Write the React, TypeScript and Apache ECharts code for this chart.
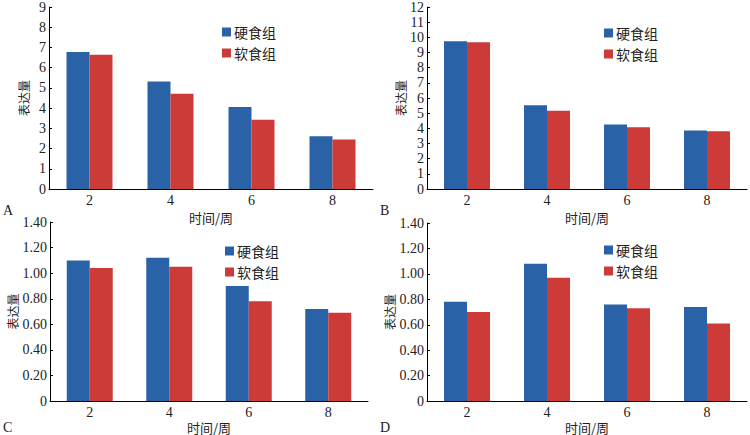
import React, { useEffect, useRef } from 'react';
import * as echarts from 'echarts';

const weeks = ['2', '4', '6', '8'];
const groupNames = ['硬食组', '软食组'];

// 硬食组 / 软食组 per panel
const hardA = [6.77, 5.32, 4.05, 2.61];
const softA = [6.64, 4.71, 3.42, 2.45];
const hardB = [9.75, 5.53, 4.26, 3.85];
const softB = [9.68, 5.16, 4.07, 3.8];
const hardC = [1.1, 1.12, 0.9, 0.72];
const softC = [1.04, 1.05, 0.78, 0.69];
const hardD = [0.78, 1.08, 0.76, 0.74];
const softD = [0.7, 0.97, 0.73, 0.61];

const panelLetters = ['A', 'B', 'C', 'D'];
const yMax = [9, 12, 1.4, 1.4];
const yStep = [1, 1, 0.2, 0.2];

const BLUE = '#2a62a8';
const RED = '#cd3b38';
const SERIF = '"Liberation Serif", "DejaVu Serif", serif';
const SANS = '"Noto Sans CJK SC", "Noto Sans", sans-serif';

const grids = [
  { left: 49, top: 5, width: 324, height: 184 },
  { left: 427, top: 6, width: 320, height: 183 },
  { left: 50, top: 222, width: 318, height: 184 },
  { left: 427, top: 223, width: 320, height: 183 },
];

export default function App() {
  const chartRef = useRef<HTMLDivElement>(null);

  useEffect(() => {
    if (!chartRef.current) return;
    const chart = echarts.init(chartRef.current, null, { renderer: 'svg' });

    const hard = [hardA, hardB, hardC, hardD];
    const soft = [softA, softB, softC, softD];

    const xAxis = grids.map((_, i) => ({
      type: 'category',
      gridIndex: i,
      data: weeks,
      name: '时间/周',
      nameLocation: 'middle',
      nameGap: i < 2 ? 21 : 17,
      nameTextStyle: { fontFamily: SANS, fontSize: 13, lineHeight: 14, color: '#222' },
      axisLine: { lineStyle: { color: '#000', width: 1 } },
      axisTick: { show: false },
      axisLabel: { fontFamily: SERIF, fontSize: 14, color: '#222', margin: 4 },
    }));

    const yAxis = grids.map((_, i) => ({
      type: 'value',
      gridIndex: i,
      min: 0,
      max: yMax[i],
      interval: yStep[i],
      name: '表达量',
      nameLocation: 'middle',
      nameGap: i < 2 ? 20 : 32,
      nameTextStyle: { fontFamily: SANS, fontSize: 12, color: '#222' },
      axisLine: { show: true, lineStyle: { color: '#000', width: 1 } },
      axisTick: { show: true, inside: true, length: 3, lineStyle: { color: '#000' } },
      splitLine: { show: false },
      axisLabel: {
        fontFamily: SERIF,
        fontSize: 14,
        color: '#222',
        margin: 3,
        formatter: (v: number) => (i < 2 || v === 0 ? String(v) : v.toFixed(2)),
      },
    }));

    const series: any[] = [];
    grids.forEach((_, i) => {
      series.push({
        name: groupNames[0],
        type: 'bar',
        xAxisIndex: i,
        yAxisIndex: i,
        data: hard[i],
        barWidth: 23,
        barGap: '0%',
        itemStyle: { color: BLUE },
      });
      series.push({
        name: groupNames[1],
        type: 'bar',
        xAxisIndex: i,
        yAxisIndex: i,
        data: soft[i],
        barWidth: 23,
        barGap: '0%',
        itemStyle: { color: RED },
      });
    });

    const legendPos = [
      { left: 222, top: 25 },
      { left: 604, top: 26 },
      { left: 225, top: 244 },
      { left: 604, top: 243 },
    ];
    const legend = legendPos.map((p) => ({
      ...p,
      orient: 'vertical',
      data: groupNames,
      icon: 'rect',
      itemWidth: 9,
      itemHeight: 9,
      itemGap: 7,
      padding: 0,
      textStyle: { fontFamily: SANS, fontSize: 14, color: '#222', padding: [0, 0, 0, -2] },
    }));

    const letterPos = [
      [3, 203],
      [380, 203],
      [3, 420],
      [380, 420],
    ];
    const graphic = letterPos.map((p, i) => ({
      type: 'text',
      x: p[0],
      y: p[1],
      style: { text: panelLetters[i], font: `14px ${SERIF}`, fill: '#222' },
    }));

    chart.setOption({
      animation: false,
      backgroundColor: '#fff',
      grid: grids,
      xAxis,
      yAxis,
      legend,
      series,
      graphic,
    });

    return () => chart.dispose();
  }, []);

  return (
    <div
      ref={chartRef}
      style={{ position: 'fixed', left: 0, top: 0, width: 750, height: 435, background: '#fff' }}
    />
  );
}
